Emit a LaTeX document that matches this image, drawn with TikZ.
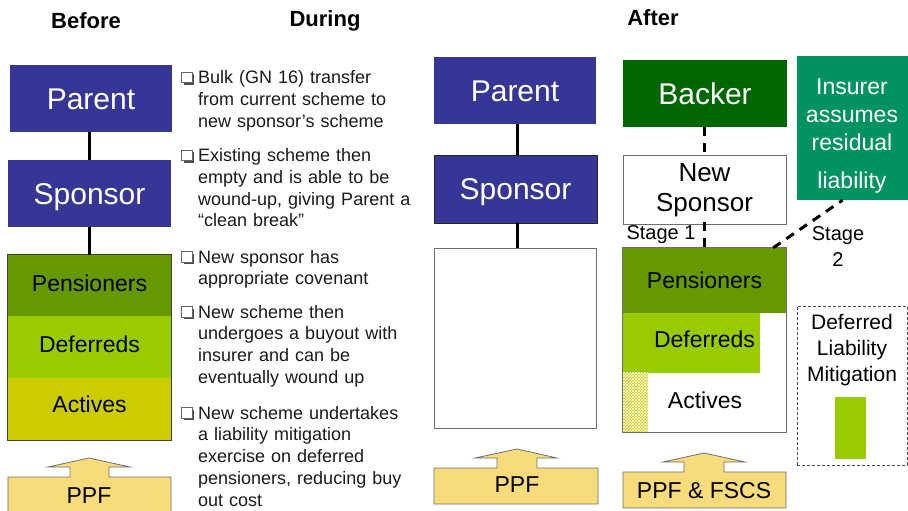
\documentclass[tikz,border=0pt]{standalone}
\usepackage{fontspec}
\setmainfont{Liberation Sans}
\usetikzlibrary{patterns,shadows}

\definecolor{sponsorblue}{HTML}{363696}
\definecolor{backergreen}{HTML}{006600}
\definecolor{insurergreen}{HTML}{009360}
\definecolor{penscol}{HTML}{669900}
\definecolor{defcol}{HTML}{99CC00}
\definecolor{actcol}{HTML}{CCCC00}
\definecolor{ppfcol}{HTML}{F8DC7C}
\definecolor{edgegray}{HTML}{6E6E6E}
\definecolor{bodytext}{HTML}{1A1A1A}

\tikzset{
  box/.style={rectangle, inner sep=0pt},
  company/.style={box, fill=sponsorblue, text=white, font=\fontsize{30}{34}\selectfont,
    text height=21.5pt, text depth=0pt},
  layer/.style={box, font=\fontsize{23}{27}\selectfont, text height=16.5pt, text depth=0pt},
  heading/.style={font=\bfseries\fontsize{22}{26}\selectfont},
  tie/.style={line width=3pt, black},
  dashtie/.style={line width=3pt, black, dash pattern=on 9pt off 7pt},
  bullettext/.style={anchor=base west, inner sep=0pt, align=left, text width=230pt,
    text=bodytext, font=\fontsize{18}{21.8}\selectfont},
  tick/.style={rectangle, draw=gray!80!black, fill=white, line width=0.6pt,
    minimum size=10.5pt, inner sep=0pt,
    drop shadow={shadow xshift=1.8pt, shadow yshift=-1.8pt, fill=gray!60!black, opacity=1}},
  ppfshape/.style={fill=ppfcol},
  ppfedge/.style={draw=edgegray, line width=0.8pt},
  ppftext/.style={font=\fontsize{23}{27}\selectfont, inner sep=0pt, text height=16.5pt, text depth=0pt},
  plain/.style={font=\fontsize{20}{26}\selectfont, inner sep=0pt, align=center},
}

\begin{document}
\begin{tikzpicture}[x=1pt, y=-1pt]
\useasboundingbox (0,0) rectangle (908,511);
\fill[white] (0,0) rectangle (908,511);

% column headings
\node[heading] (hbefore) at (86,21) {Before};
\node[heading] (hduring) at (325,21) {During};
\node[heading] (hafter) at (653,18) {After};

% ---------- Before ----------
\node[company, minimum width=162pt, minimum height=67pt] (bparent) at (91,98.5) {Parent};
\node[company, minimum width=163pt, minimum height=67pt] (bsponsor) at (89.5,193.5) {Sponsor};
\node[layer, fill=penscol, text depth=5pt, minimum width=163pt, minimum height=61pt] (bpens) at (89.5,285.5) {Pensioners};
\node[layer, fill=defcol, text depth=6pt, minimum width=163pt, minimum height=62pt] (bdef) at (89.5,347) {Deferreds};
\node[layer, fill=actcol, text depth=9pt, minimum width=163pt, minimum height=62pt] (bact) at (89.5,409) {Actives};
\draw[draw=black!75, line width=0.8pt] (bpens.north west) rectangle (bact.south east);
\draw[tie] (bparent.south -| 89,0) -- (bsponsor.north -| 89,0);
\draw[tie] (bsponsor.south -| 89,0) -- (bpens.north -| 89,0);

% PPF support arrow (runs off the lower edge)
\fill[ppfshape] (8,515) -- (8,477) -- (70,477) -- (70,467) -- (48,467) -- (89,458)
  -- (130,467) -- (109,467) -- (109,477) -- (171,477) -- (171,515) -- cycle;
\draw[ppfedge] (8,515) -- (8,477) -- (70,477) -- (70,467) -- (48,467) -- (89,458)
  -- (130,467) -- (109,467) -- (109,477) -- (171,477) -- (171,515);
\node[ppftext] (bppf) at (89,495) {PPF};

% ---------- During: bullet list ----------
\node[tick] (m1) at (187,77.5) {};
\node[bullettext] (t1) at (198,83.5) {Bulk (GN 16) transfer\\from current scheme to\\new sponsor’s scheme};
\node[tick] (m2) at (187,155.5) {};
\node[bullettext] (t2) at (198,161.5) {Existing scheme then\\empty and is able to be\\wound-up, giving Parent a\\“clean break”};
\node[tick] (m3) at (187,257) {};
\node[bullettext] (t3) at (198,263) {New sponsor has\\appropriate covenant};
\node[tick] (m4) at (187,312) {};
\node[bullettext] (t4) at (198,318) {New scheme then\\undergoes a buyout with\\insurer and can be\\eventually wound up};
\node[tick] (m5) at (187,413) {};
\node[bullettext] (t5) at (198,419) {New scheme undertakes\\a liability mitigation\\exercise on deferred\\pensioners, reducing buy\\out cost};

% ---------- During: structure ----------
\node[company, minimum width=162pt, minimum height=67pt] (dparent) at (515,90.5) {Parent};
\node[company, draw=black!85, line width=0.8pt, minimum width=163pt, minimum height=68pt] (dsponsor) at (515.5,189) {Sponsor};
\node[box, draw=edgegray, line width=0.8pt, fill=white, minimum width=162pt, minimum height=180pt] (dscheme) at (515,338) {};
\draw[tie] (dparent.south -| 517,0) -- (dsponsor.north -| 517,0);
\draw[tie] (dsponsor.south -| 517,0) -- (dscheme.north -| 517,0);

\fill[ppfshape] (434,504) -- (434,468) -- (497,468) -- (497,458) -- (475,458) -- (517,449)
  -- (557,458) -- (537,458) -- (537,468) -- (598,468) -- (598,504) -- cycle;
\draw[ppfedge] (434,504) -- (434,468) -- (497,468) -- (497,458) -- (475,458) -- (517,449)
  -- (557,458) -- (537,458) -- (537,468) -- (598,468) -- (598,504) -- cycle;
\node[ppftext] (dppf) at (517,484) {PPF};

% ---------- After ----------
\node[company, fill=backergreen, minimum width=164pt, minimum height=67pt] (backer) at (705,93.5) {Backer};
\node[rectangle, fill=insurergreen, minimum width=111pt, minimum height=144pt, inner sep=0pt] (insurer) at (852.5,128) {};
\node[inner sep=0pt, text=white, font=\fontsize{23}{28}\selectfont, align=center, anchor=base] (ins1) at (852,150.5) {Insurer\\assumes\\residual};
\node[inner sep=0pt, text=white, font=\fontsize{23}{28}\selectfont, anchor=base] (ins2) at (852,188.5) {liability};

\node[box, draw=edgegray, line width=0.8pt, fill=white, align=center,
  font=\fontsize{26}{30}\selectfont, minimum width=163pt, minimum height=69pt] (newsponsor) at (704.5,190) {New\\Sponsor};

\node[layer, fill=penscol, minimum width=163pt, minimum height=65pt] (rpens) at (704.5,280.5) {Pensioners};
\node[box, fill=defcol, minimum width=137pt, minimum height=60pt] (rdef) at (691.5,343) {};
\node[layer] (rdeftxt) at (704.5,339) {Deferreds};
\node[box, fill=actcol, minimum width=25pt, minimum height=59pt] (ract) at (635.5,402.5) {};
\pattern[pattern=crosshatch, pattern color=white] (ract.north west) rectangle (ract.south east);
\node[layer] (racttxt) at (705,400) {Actives};
\draw[draw=edgegray, line width=0.8pt] (rpens.north west) rectangle (786,432);

\draw[dashtie] (backer.south -| 704,0) -- (704,153);
\draw[dashtie] (704,222) -- (rpens.north -| 704,0);
\draw[dashtie] ([xshift=-13pt]rpens.north east) -- ([xshift=-10pt]insurer.south);
\node[plain] (stage1) at (661,235) {Stage 1};
\node[plain, font=\fontsize{20}{26}\selectfont] (stage2) at (838,247) {Stage\\2};

% deferred liability mitigation panel
\node[rectangle, draw=black!70, line width=0.8pt, dash pattern=on 3pt off 2pt,
  minimum width=110pt, minimum height=159pt, inner sep=0pt] (dlm) at (852,385.5) {};
\node[inner sep=0pt, align=center, font=\fontsize{21}{26}\selectfont, anchor=north] (dlmtxt) at (852,314) {Deferred\\Liability\\Mitigation};
\node[rectangle, fill=defcol, minimum width=31pt, minimum height=62pt, inner sep=0pt] (dlmbar) at (850.5,428) {};

\fill[ppfshape] (623,508) -- (623,472) -- (684,472) -- (684,462) -- (663,462) -- (704,453)
  -- (745,462) -- (724,462) -- (724,472) -- (786,472) -- (786,508) -- cycle;
\draw[ppfedge] (623,508) -- (623,472) -- (684,472) -- (684,462) -- (663,462) -- (704,453)
  -- (745,462) -- (724,462) -- (724,472) -- (786,472) -- (786,508) -- cycle;
\node[ppftext] (rppf) at (704,490) {PPF \& FSCS};
\end{tikzpicture}
\end{document}
